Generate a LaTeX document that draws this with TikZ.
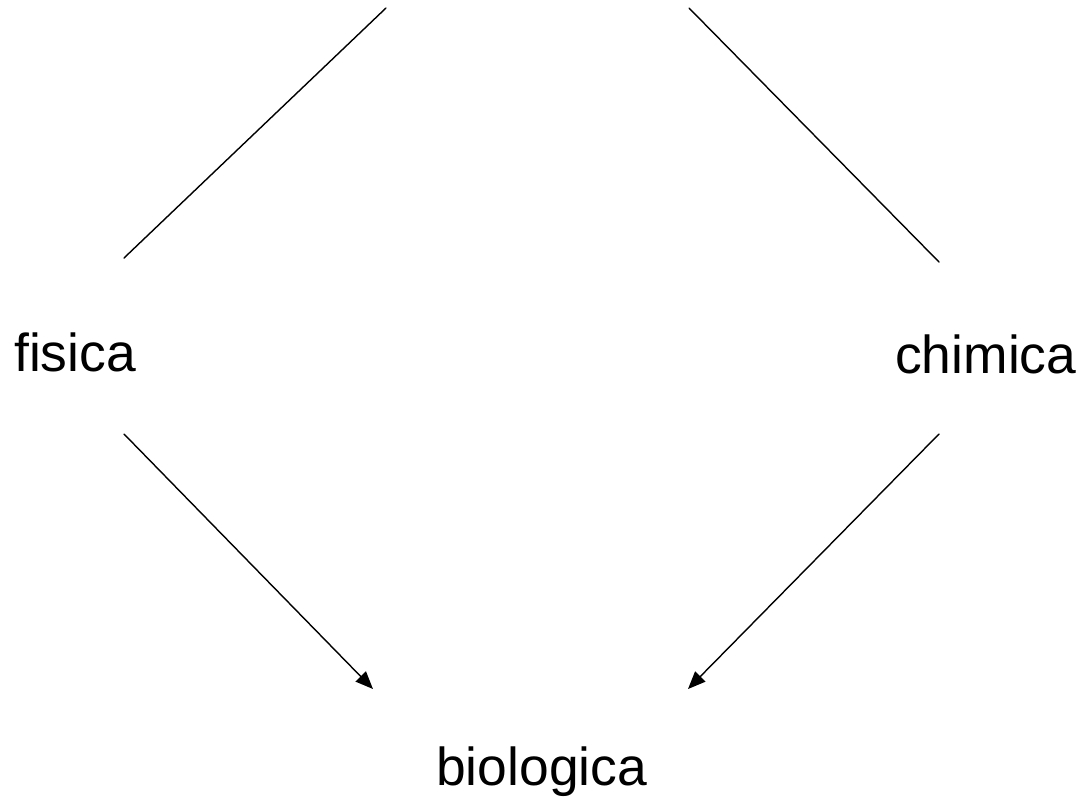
\documentclass[tikz,border=0pt]{standalone}
\usepackage{fontspec}
\setmainfont{Liberation Sans}
\usetikzlibrary{arrows.meta}
\tikzset{
  field/.style={anchor=base west, inner sep=0pt, font=\fontsize{38}{40}\selectfont},
  link/.style={line width=1pt, line cap=round},
  flow/.style={link, -{Triangle[length=4.4mm, width=3.6mm]}, shorten >=-1pt}
}
\begin{document}
\begin{tikzpicture}[x=0.25mm, y=-0.25mm]
  \useasboundingbox (0,0) rectangle (1082,801);
  % the three fields
  \node[field] (fisica) at (14,371) {fisica};
  \node[field] (chimica) at (895,373) {chimica};
  \node[field] (biologica) at (436,785) {biologica};
  % ends of the connectors
  \coordinate (fisica-up) at (124,258);
  \coordinate (fisica-down) at (124,434);
  \coordinate (chimica-up) at (939,262);
  \coordinate (chimica-down) at (939,434);
  \coordinate (top-left) at (386,8);
  \coordinate (top-right) at (689,8);
  \coordinate (biologica-left) at (372,688);
  \coordinate (biologica-right) at (689,688);
  % upper lines, leaving the picture at the top
  \draw[link] (fisica-up) -- (top-left);
  \draw[link] (chimica-up) -- (top-right);
  % lower arrows into biologica
  \draw[flow] (fisica-down) -- (biologica-left);
  \draw[flow] (chimica-down) -- (biologica-right);
\end{tikzpicture}
\end{document}
